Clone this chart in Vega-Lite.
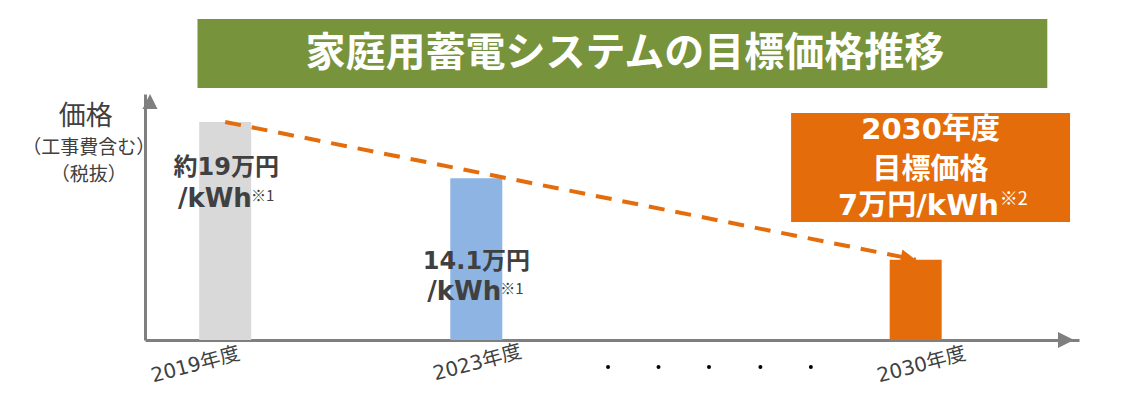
{
  "$schema": "https://vega.github.io/schema/vega-lite/v6.json",
  "autosize": {"type": "none"},
  "padding": {"left": 145, "top": 94, "right": 45, "bottom": 58},
  "width": 934,
  "height": 246,
  "background": "white",
  "config": {"view": {"stroke": null}},
  "datasets": {
    "bars": [{"year": 2019, "price": 19}, {"year": 2023, "price": 14.1}, {"year": 2030, "price": 7}],
    "trend": [{"year": 2019, "price": 19}, {"year": 2030, "price": 7}],
    "trendEnd": [{"year": 2030, "price": 7}],
    "yArrow": [{"x": 2017.802, "y": 21.44}],
    "xArrow": [{"x": 2032.522, "y": 0}],
    "banner": [{"x": 2018.5585, "x2": 2032.0967, "y": 21.963, "y2": 27.976}],
    "title": [{"x": 2025.367, "y": 24.926, "text": "家庭用蓄電システムの目標価格推移"}],
    "box": [{"x": 2028.015, "x2": 2032.459, "y": 10.284, "y2": 19.784}],
    "boxText": [{"x": 2030.237, "y": 18.302, "text": "2030年度"}, {"x": 2030.237, "y": 14.816, "text": "目標価格"}],
    "boxTextRight": [{"x": 2031.324, "y": 11.679, "text": "7万円/kWh"}],
    "boxNote": [{"x": 2031.34, "y": 12.2, "text": "※2"}],
    "barLabel": [{"x": 2019.016, "y": 14.99, "text": "約19万円"}, {"x": 2023.003, "y": 6.84, "text": "14.1万円"}],
    "barUnit": [{"x": 2019.425, "y": 12.289, "text": "/kWh"}, {"x": 2023.397, "y": 4.183, "text": "/kWh"}],
    "barNote": [{"x": 2019.41, "y": 12.55, "text": "※1"}, {"x": 2023.382, "y": 4.45, "text": "※1"}],
    "yTitle": [{"x": 2016.778, "y": 19.43, "text": "価格"}],
    "ySub": [{"x": 2016.825, "y": 16.73, "text": "（工事費含む）"}, {"x": 2016.825, "y": 14.424, "text": "（税抜）"}],
    "xLabels": [{"x": 2018.527, "y": -2.179, "text": "2019年度"}, {"x": 2023.019, "y": -2.005, "text": "2023年度"}, {"x": 2030.095, "y": -2.179, "text": "2030年度"}],
    "dots": [{"x": 2025.099, "y": -2.353}, {"x": 2025.903, "y": -2.353}, {"x": 2026.707, "y": -2.353}, {"x": 2027.526, "y": -2.353}, {"x": 2028.33, "y": -2.353}]
  },
  "encoding": {
    "x": {"type": "quantitative", "scale": {"domain": [2017.802, 2032.522], "nice": false, "zero": false},
      "axis": {"domain": true, "domainColor": "#7F7F7F", "domainWidth": 3, "labels": false, "ticks": false, "grid": false, "title": null}},
    "y": {"type": "quantitative", "scale": {"domain": [0, 21.44], "nice": false, "zero": false},
      "axis": {"domain": true, "domainColor": "#7F7F7F", "domainWidth": 3, "labels": false, "ticks": false, "grid": false, "title": null}}
  },
  "layer": [
    {
      "data": {"name": "bars"},
      "mark": {"type": "bar", "size": 52},
      "encoding": {
        "x": {"field": "year"},
        "y": {"field": "price"},
        "color": {"field": "year", "type": "nominal", "legend": null,
          "scale": {"domain": [2019, 2023, 2030], "range": ["#D9D9D9", "#8DB4E2", "#E46C0A"]}}
      }
    },
    {
      "data": {"name": "trend"},
      "mark": {"type": "line", "color": "#E46C0A", "strokeWidth": 4, "strokeDash": [16, 11]},
      "encoding": {"x": {"field": "year"}, "y": {"field": "price"}}
    },
    {
      "data": {"name": "trendEnd"},
      "mark": {"type": "point", "shape": "M0,0 L-1,-0.5 L-1,0.5 Z", "size": 900, "angle": 11.2, "filled": true, "color": "#E46C0A", "opacity": 1},
      "encoding": {"x": {"field": "year"}, "y": {"field": "price"}}
    },
    {
      "data": {"name": "yArrow"},
      "mark": {"type": "point", "shape": "M0,0 L0.5,1 L-0.5,1 Z", "size": 900, "filled": true, "color": "#7F7F7F", "opacity": 1},
      "encoding": {"x": {"field": "x"}, "y": {"field": "y"}}
    },
    {
      "data": {"name": "xArrow"},
      "mark": {"type": "point", "shape": "M0,0 L-1,-0.5 L-1,0.5 Z", "size": 1024, "filled": true, "color": "#7F7F7F", "opacity": 1},
      "encoding": {"x": {"field": "x"}, "y": {"field": "y"}}
    },
    {
      "data": {"name": "banner"},
      "mark": {"type": "rect", "color": "#77933C"},
      "encoding": {"x": {"field": "x"}, "x2": {"field": "x2"}, "y": {"field": "y"}, "y2": {"field": "y2"}}
    },
    {
      "data": {"name": "title"},
      "mark": {"type": "text", "font": "Noto Sans CJK JP", "fontWeight": "bold", "fontSize": 40, "color": "white", "align": "center", "baseline": "middle"},
      "encoding": {"x": {"field": "x"}, "y": {"field": "y"}, "text": {"field": "text"}}
    },
    {
      "data": {"name": "box"},
      "mark": {"type": "rect", "color": "#E46C0A"},
      "encoding": {"x": {"field": "x"}, "x2": {"field": "x2"}, "y": {"field": "y"}, "y2": {"field": "y2"}}
    },
    {
      "data": {"name": "boxText"},
      "mark": {"type": "text", "font": "DejaVu Sans, Noto Sans CJK JP", "fontWeight": "bold", "fontSize": 29, "color": "white", "align": "center", "baseline": "middle"},
      "encoding": {"x": {"field": "x"}, "y": {"field": "y"}, "text": {"field": "text"}}
    },
    {
      "data": {"name": "boxTextRight"},
      "mark": {"type": "text", "font": "DejaVu Sans, Noto Sans CJK JP", "fontWeight": "bold", "fontSize": 29, "color": "white", "align": "right", "baseline": "middle"},
      "encoding": {"x": {"field": "x"}, "y": {"field": "y"}, "text": {"field": "text"}}
    },
    {
      "data": {"name": "boxNote"},
      "mark": {"type": "text", "font": "Noto Sans CJK JP", "fontSize": 18, "color": "white", "align": "left", "baseline": "middle"},
      "encoding": {"x": {"field": "x"}, "y": {"field": "y"}, "text": {"field": "text"}}
    },
    {
      "data": {"name": "barLabel"},
      "mark": {"type": "text", "font": "DejaVu Sans, Noto Sans CJK JP", "fontWeight": "bold", "fontSize": 24, "color": "#404040", "align": "center", "baseline": "middle"},
      "encoding": {"x": {"field": "x"}, "y": {"field": "y"}, "text": {"field": "text"}}
    },
    {
      "data": {"name": "barUnit"},
      "mark": {"type": "text", "font": "DejaVu Sans, Noto Sans CJK JP", "fontWeight": "bold", "fontSize": 26, "color": "#404040", "align": "right", "baseline": "middle"},
      "encoding": {"x": {"field": "x"}, "y": {"field": "y"}, "text": {"field": "text"}}
    },
    {
      "data": {"name": "barNote"},
      "mark": {"type": "text", "font": "Noto Sans CJK JP", "fontSize": 15, "color": "#404040", "align": "left", "baseline": "middle"},
      "encoding": {"x": {"field": "x"}, "y": {"field": "y"}, "text": {"field": "text"}}
    },
    {
      "data": {"name": "yTitle"},
      "mark": {"type": "text", "font": "Noto Sans CJK JP", "fontSize": 27, "color": "#404040", "align": "center", "baseline": "middle"},
      "encoding": {"x": {"field": "x"}, "y": {"field": "y"}, "text": {"field": "text"}}
    },
    {
      "data": {"name": "ySub"},
      "mark": {"type": "text", "font": "Noto Sans CJK JP", "fontSize": 19, "color": "#404040", "align": "center", "baseline": "middle"},
      "encoding": {"x": {"field": "x"}, "y": {"field": "y"}, "text": {"field": "text"}}
    },
    {
      "data": {"name": "xLabels"},
      "mark": {"type": "text", "font": "DejaVu Sans, Noto Sans CJK JP", "fontSize": 20, "color": "#404040", "align": "center", "baseline": "middle", "angle": -15},
      "encoding": {"x": {"field": "x"}, "y": {"field": "y"}, "text": {"field": "text"}}
    },
    {
      "data": {"name": "dots"},
      "mark": {"type": "circle", "size": 16, "color": "black", "opacity": 1},
      "encoding": {"x": {"field": "x"}, "y": {"field": "y"}}
    }
  ]
}
